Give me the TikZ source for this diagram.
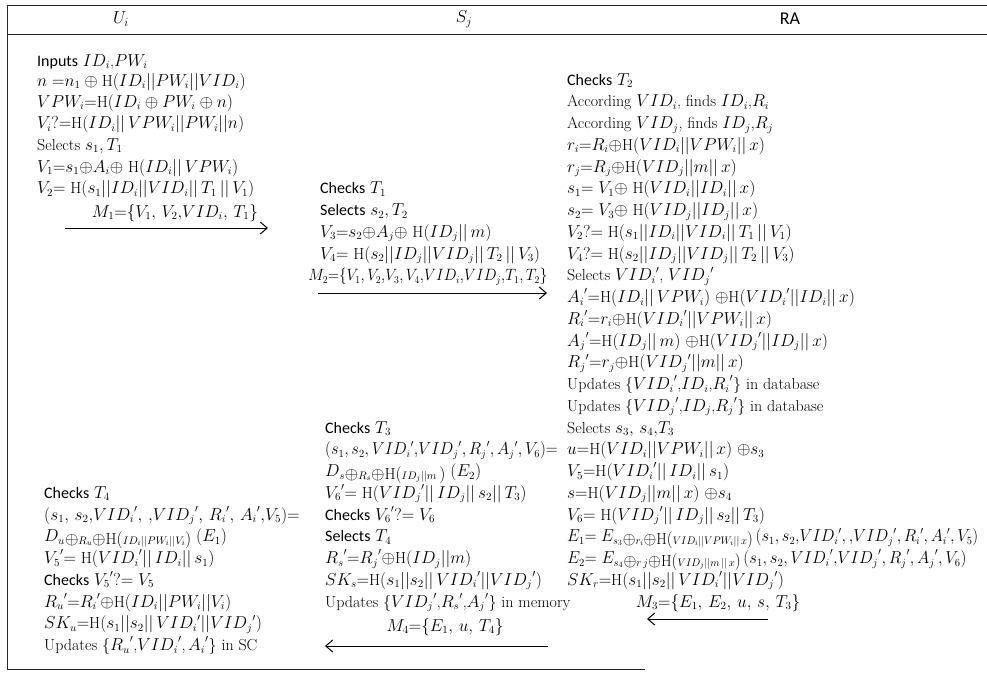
\documentclass[tikz,border=0pt]{standalone}
\usepackage{fontspec}
\newfontfamily\calf{Carlito}
\usetikzlibrary{arrows.meta}
\newcommand{\Hf}{\mathrm{H}}
\newcommand{\prm}[1]{{#1}'}
\newcommand{\lsub}[1]{\raisebox{-2.5pt}{$#1$}}
\newcommand{\Lline}[4]{\node[txt] (#1) at (#2,#3) {#4};}
\begin{document}
\begin{tikzpicture}[x=1pt,y=-1pt,
  txt/.style={anchor=base west,inner sep=0pt,font=\fontsize{16}{19}\selectfont},
  lab/.style={anchor=base,inner sep=0pt,font=\fontsize{16}{19}\selectfont},
  head/.style={anchor=center,inner sep=0pt,font=\fontsize{18}{21}\selectfont},
  msg/.style={line width=1pt,-{Straight Barb[length=7pt,width=12pt]}},
  frame/.style={line width=0.9pt,draw=black!85}]
\useasboundingbox (0,0) rectangle (987,672);
% frame
\coordinate (tl) at (7,5); \coordinate (tr) at (987,5);
\coordinate (ml) at (7,34); \coordinate (mr) at (987,34);
\coordinate (bl) at (7,669); \coordinate (br) at (645,669);
\draw[frame] (tr) -- (tl) -- (bl) -- (br);
\draw[frame] (ml) -- (mr);
% headers
\node[head] (hU) at (121,19) {$U_i$};
\node[head] (hS) at (464,19) {$S_j$};
\node[head] (hR) at (790,19) {\calf RA};
% U_i top
\Lline{u1}{37}{66}{{\calf Inputs} $ID_i$,$PW_i$}
\Lline{u2}{37}{86}{$n\ {=}n_1 \oplus\Hf(ID_i||PW_i||VID_i)$}
\Lline{u3}{37}{107.25}{$VPW_i{=}\Hf(ID_i \oplus PW_i \oplus n)$}
\Lline{u4}{37}{128.5}{$V_i?{=}\Hf(ID_i||\,VPW_i||PW_i||n)$}
\Lline{u5}{37}{150.25}{Selects $s_1, T_1$}
\Lline{u6}{37}{172}{$V_1{=}s_1{\oplus}A_i{\oplus}\ \Hf(ID_i||\,VPW_i)$}
\Lline{u7}{37}{193.75}{$V_2{=}\ \Hf(s_1||ID_i||VID_i||\,T_1\,||\,V_1)$}
\node[lab] (m1) at (175,217) {$M_1{=}\{V_1,\,V_2{,}VID_i,\,T_1\}$};
\coordinate (m1a) at (65,228); \coordinate (m1b) at (268,228);
\draw[msg] (m1a) -- (m1b);
% S_j top
\Lline{s1}{320}{193.75}{{\calf Checks} $T_1$}
\Lline{s2}{320}{215.5}{{\calf Selects} $s_2, T_2$}
\Lline{s3}{320}{237.25}{$V_3{=}s_2{\oplus}A_j{\oplus}\ \Hf(ID_j||\,m)$}
\Lline{s4}{320}{259}{$V_4{=}\ \Hf(s_2||ID_j||VID_j||\,T_2\,||\,V_3)$}
\node[lab] (m2) at (428,280.75) {\scalebox{0.88}[0.95]{$M_2{=}\{V_1, V_2{,}V_3, V_4{,}VID_i{,}VID_j{,}T_1, T_2\}$}};
\coordinate (m2a) at (318,293); \coordinate (m2b) at (547,293);
\draw[msg] (m2a) -- (m2b);
% RA
\Lline{r1}{567}{85}{{\calf Checks} $T_2$}
\Lline{r2}{567}{106.75}{According $VID_i$, finds $ID_i$,$R_i$}
\Lline{r3}{567}{128.5}{According $VID_j$, finds $ID_j$,$R_j$}
\Lline{r4}{567}{150.25}{$r_i{=}R_i{\oplus}\Hf(VID_i||VPW_i||\,x)$}
\Lline{r5}{567}{172}{$r_j{=}R_j{\oplus}\Hf(VID_j||m||\,x)$}
\Lline{r6}{567}{193.75}{$s_1{=}\ V_1{\oplus}\ \Hf(VID_i||ID_i||\,x)$}
\Lline{r7}{567}{215.5}{$s_2{=}\ V_3{\oplus}\ \Hf(VID_j||ID_j||\,x)$}
\Lline{r8}{567}{237.25}{$V_2?{=}\ \Hf(s_1||ID_i||VID_i||\,T_1\,||\,V_1)$}
\Lline{r9}{567}{259}{$V_4?{=}\ \Hf(s_2||ID_j||VID_j||\,T_2\,||\,V_3)$}
\Lline{r10}{567}{280.75}{Selects $\prm{VID_i}$, $\prm{VID_j}$}
\Lline{r11}{567}{302.5}{$\prm{A_i}{=}\Hf(ID_i||\,VPW_i)\ {\oplus}\Hf(\prm{VID_i}||ID_i||\,x)$}
\Lline{r12}{567}{324.25}{$\prm{R_i}{=}r_i{\oplus}\Hf(\prm{VID_i}||VPW_i||\,x)$}
\Lline{r13}{567}{346}{$\prm{A_j}{=}\Hf(ID_j||\,m)\ {\oplus}\Hf(\prm{VID_j}||ID_j||\,x)$}
\Lline{r14}{567}{367.75}{$\prm{R_j}{=}r_j{\oplus}\Hf(\prm{VID_j}||m||\,x)$}
\Lline{r15}{567}{389.5}{Updates \{$\prm{VID_i}$,$ID_i$,$\prm{R_i}$\} in database}
\Lline{r16}{567}{411.25}{Updates \{$\prm{VID_j}$,$ID_j$,$\prm{R_j}$\} in database}
\Lline{r17}{567}{433}{Selects $s_3,\,s_4{,}T_3$}
\Lline{r18}{567}{454.75}{$u{=}\Hf(VID_i||VPW_i||\,x)\ {\oplus}s_3$}
\Lline{r19}{567}{476.5}{$V_5{=}\Hf(\prm{VID_i}||\,ID_i||\,s_1)$}
\Lline{r20}{567}{498.25}{$s{=}\Hf(VID_j||m||\,x)\ {\oplus}s_4$}
\Lline{r21}{567}{520}{$V_6{=}\ \Hf(\prm{VID_j}||\,ID_j||\,s_2||\,T_3)$}
\Lline{r22}{567}{541.75}{\scalebox{0.95}[1]{$E_1{=}\ E_{s_3}\lsub{{\oplus}{\scriptstyle r_i}{\oplus}\Hf({\scriptstyle VID_i||VPW_i||\,x})}\,(s_1,s_2{,}\prm{VID_i},{,}\prm{VID_j},\prm{R_i},\prm{A_i},V_5)$}}
\Lline{r23}{567}{563.5}{\scalebox{0.96}[1]{$E_2{=}\ E_{s_4}\lsub{{\oplus}{\scriptstyle r\,j}{\oplus}\Hf({\scriptstyle VID_j||m\,||\,x})}\,(s_1,s_2,\prm{VID_i}{,}\prm{VID_j},\prm{R_j},\prm{A_j},V_6)$}}
\Lline{r24}{567}{585.25}{$SK_r{=}\Hf(s_1||s_2||\,\prm{VID_i}||\prm{VID_j})$}
\node[lab] (m3) at (718,607) {$M_3{=}\{E_1,\,E_2,\,u,\,s,\,T_3\}$};
\coordinate (m3a) at (768,619); \coordinate (m3b) at (647,619);
\draw[msg] (m3a) -- (m3b);
% S_j bottom
\Lline{t1}{325}{433}{{\calf Checks} $T_3$}
\Lline{t2}{325}{454.75}{\scalebox{0.95}[1]{$(s_1, s_2, \prm{VID_i}{,}\prm{VID_j}, \prm{R_j}, \prm{A_j}, V_6){=}$}}
\Lline{t3}{325}{476.5}{$D_{s}\lsub{{\oplus}{\scriptstyle R_s}{\oplus}\Hf({\scriptstyle ID_j||m}\,)}\ (E_2)$}
\Lline{t4}{325}{498.25}{$\prm{V_6}{=}\ \Hf(\prm{VID_j}||\,ID_j||\,s_2||\,T_3)$}
\Lline{t5}{325}{520}{{\calf Checks} $\prm{V_6}?{=}\ V_6$}
\Lline{t6}{325}{541.75}{{\calf Selects} $T_4$}
\Lline{t7}{325}{563.5}{$\prm{R_s}{=}\prm{R_j}{\oplus}\Hf(ID_j||m)$}
\Lline{t8}{325}{585.25}{$SK_s{=}\Hf(s_1||s_2||\,\prm{VID_i}||\prm{VID_j})$}
\Lline{t9}{325}{607}{Updates \{$\prm{VID_j}$,$\prm{R_s}$,$\prm{A_j}$\} in memory}
\node[lab] (m4) at (445,631) {$M_4{=}\{E_1,\,u,\,T_4\}$};
\coordinate (m4a) at (548,646); \coordinate (m4b) at (325,646);
\draw[msg] (m4a) -- (m4b);
% U_i bottom
\Lline{v1}{44}{498.25}{{\calf Checks} $T_4$}
\Lline{v2}{44}{520}{$(s_1,\,s_2{,}\prm{VID_i},\,{,}\prm{VID_j},\,\prm{R_i},\,\prm{A_i}{,}V_5){=}$}
\Lline{v3}{44}{541.75}{$D_{u}\lsub{{\oplus}{\scriptstyle R_u}{\oplus}\Hf({\scriptstyle ID_i||PW_i||V_i})}\ (E_1)$}
\Lline{v4}{44}{563.5}{$\prm{V_5}{=}\ \Hf(\prm{VID_i}||\,ID_i||\,s_1)$}
\Lline{v5}{44}{585.25}{{\calf Checks} $\prm{V_5}?{=}\ V_5$}
\Lline{v6}{44}{607}{$\prm{R_u}{=}\prm{R_i}{\oplus}\Hf(ID_i||PW_i||V_i)$}
\Lline{v7}{44}{628.75}{$SK_u{=}\Hf(s_1||s_2||\,\prm{VID_i}||\prm{VID_j})$}
\Lline{v8}{44}{650.5}{Updates \{$\prm{R_u}$,$\prm{VID_i}$,\,$\prm{A_i}$\} in SC}
\end{tikzpicture}
\end{document}
